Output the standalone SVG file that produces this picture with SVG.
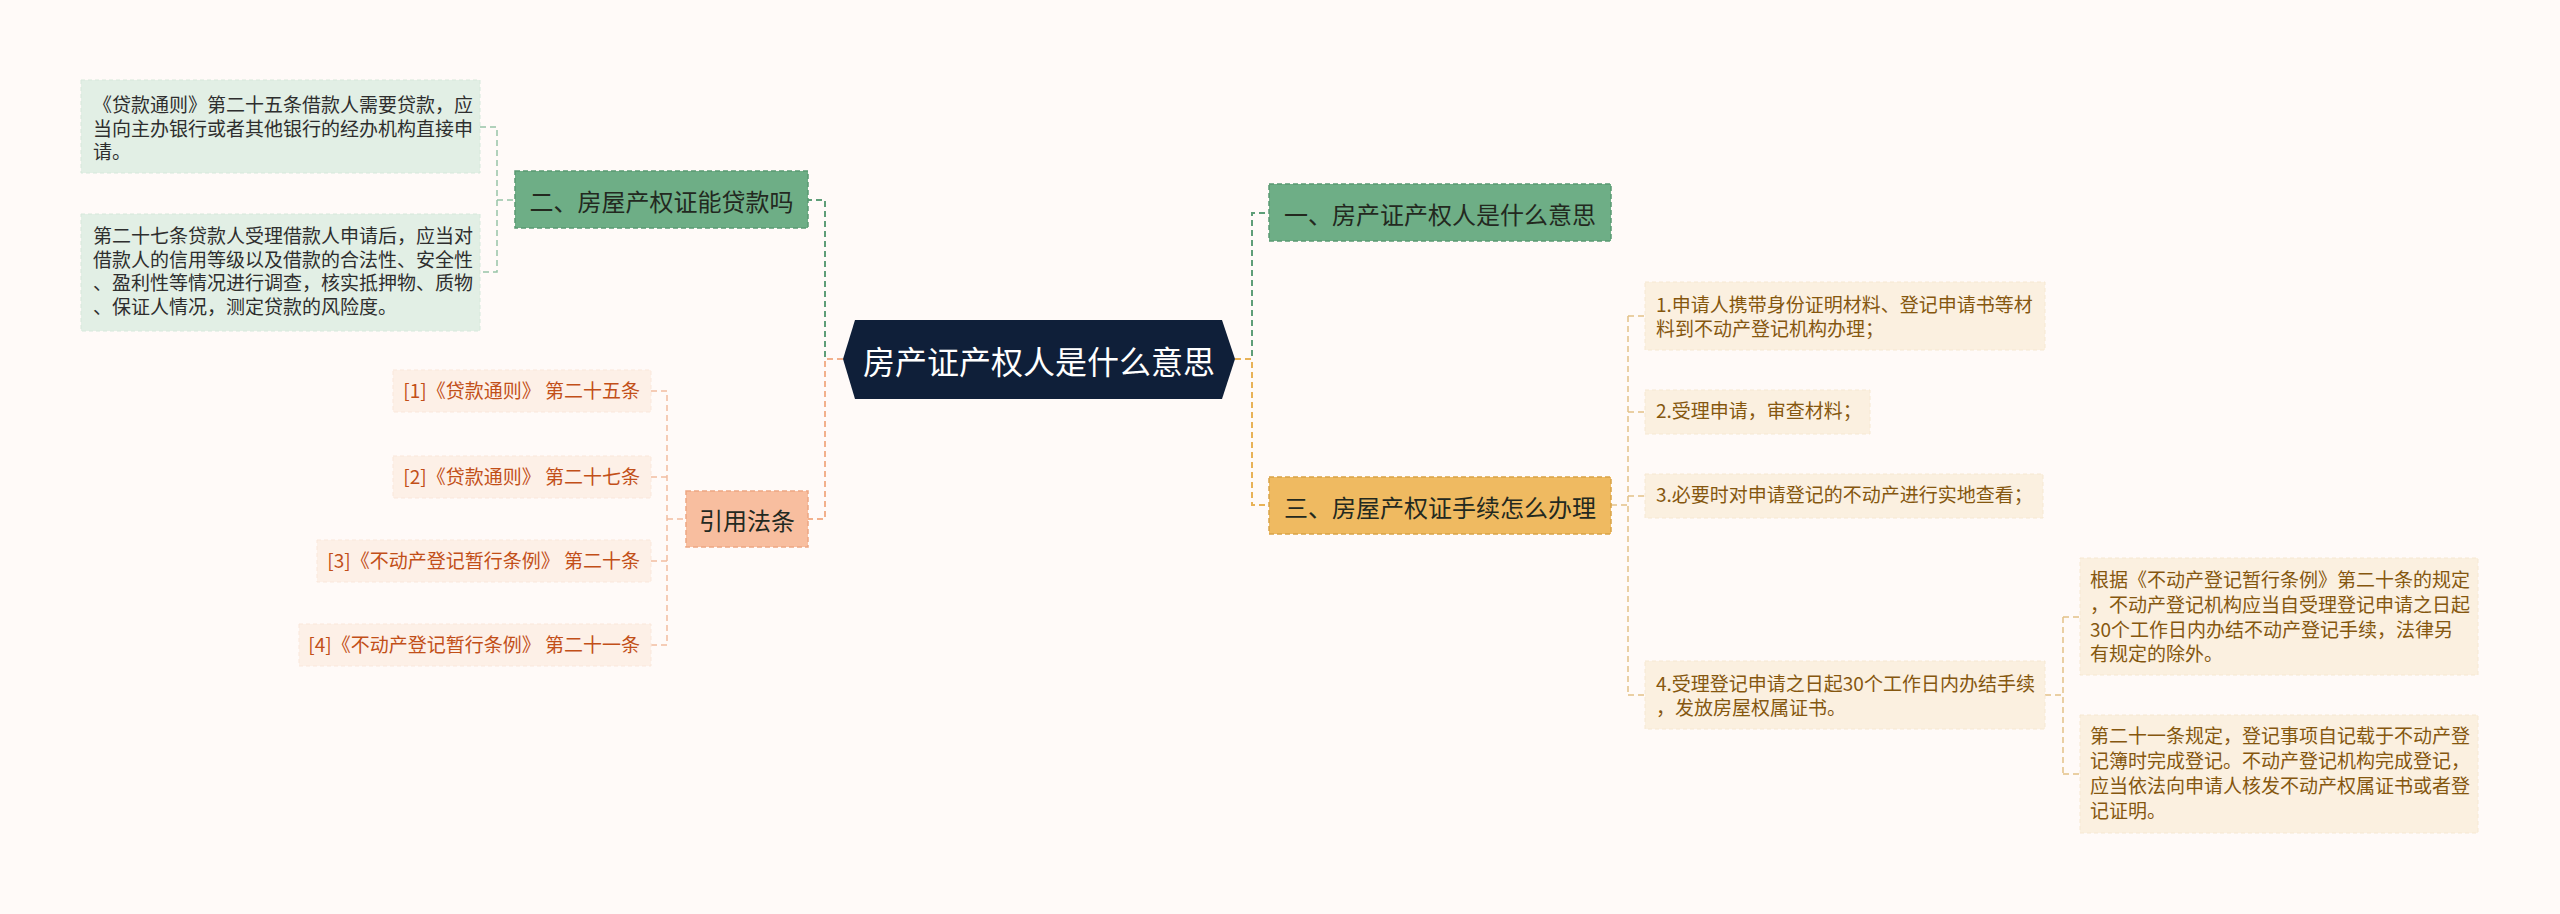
<svg xmlns="http://www.w3.org/2000/svg" width="2560" height="914" viewBox="0 0 2560 914">
<style>
text{font-family:"Noto Sans CJK SC","Noto Sans",sans-serif;}
.small{font-size:19px;}
.node{font-size:24px;fill:#23291F;}
.gbox{fill:#E2EFE5;stroke:#D6E8DB;stroke-width:1;stroke-dasharray:4 3;}
.gtxt{fill:#2E2E2E;}
.cbox{fill:#FBF0E0;stroke:#F6E8D2;stroke-width:1;stroke-dasharray:4 3;}
.ctxt{fill:#85570F;}
.rbox{fill:#FDF0E7;stroke:#FAE7DB;stroke-width:1;stroke-dasharray:4 3;}
.rtxt{fill:#C24F18;}
.main{fill:none;stroke-width:2;stroke-dasharray:6 4;}
.sub{fill:none;stroke-width:1.5;stroke-dasharray:6 4;}
</style>
<rect x="0" y="0" width="2560" height="914" fill="#FFFAF8"/>

<g id="connectors">
  <path class="main" stroke="#5E9E78" d="M843,359 H825 V200 H808"/>
  <path class="main" stroke="#F2B08C" d="M843,359 H825 V519 H808"/>
  <path class="main" stroke="#5E9E78" d="M1235,359 H1252 V213 H1269"/>
  <path class="main" stroke="#E8B257" d="M1235,359 H1252 V505 H1269"/>
  <path class="sub" stroke="#98C4A6" d="M480,127 H497 V272 H480 M497,200 H515"/>
  <path class="sub" stroke="#F2BDA0" d="M651,391 H667 V645 H651 M667,477 H651 M667,561 H651 M667,519 H686"/>
  <path class="sub" stroke="#E4C186" d="M1611,505 H1628 M1628,316 V695 M1628,316 H1645 M1628,412 H1645 M1628,496 H1645 M1628,695 H1645"/>
  <path class="sub" stroke="#E4C186" d="M2045,695 H2063 M2063,617 V774 M2063,617 H2080 M2063,774 H2080"/>
</g>

<g id="root">
  <polygon points="843,359 855,320 1222,320 1235,359 1222,399 855,399" fill="#0F1F39"/>
  <text x="1039" y="360" font-size="32" fill="#FFFFFF" text-anchor="middle" dominant-baseline="central">房产证产权人是什么意思</text>
</g>

<g id="node-2">
  <rect x="515" y="171" width="293" height="57" fill="#6EAE86" stroke="#5A9972" stroke-width="1.5" stroke-dasharray="5 3"/>
  <text class="node" x="661.5" y="200" text-anchor="middle" dominant-baseline="central">二、房屋产权证能贷款吗</text>
</g>
<g id="node-2-a">
  <rect class="gbox" x="81" y="80" width="399" height="93"/>
  <text class="small gtxt" x="93"><tspan x="93" y="112">《贷款通则》第二十五条借款人需要贷款，应</tspan><tspan x="93" y="135.5">当向主办银行或者其他银行的经办机构直接申</tspan><tspan x="93" y="159">请。</tspan></text>
</g>
<g id="node-2-b">
  <rect class="gbox" x="81" y="214" width="399" height="117"/>
  <text class="small gtxt" x="93"><tspan x="93" y="243">第二十七条贷款人受理借款人申请后，应当对</tspan><tspan x="93" y="266.5">借款人的信用等级以及借款的合法性、安全性</tspan><tspan x="93" y="290">、盈利性等情况进行调查，核实抵押物、质物</tspan><tspan x="93" y="313.5">、保证人情况，测定贷款的风险度。</tspan></text>
</g>

<g id="node-refs">
  <rect x="686" y="491" width="122" height="56" fill="#F8BE9F" stroke="#EDA682" stroke-width="1.5" stroke-dasharray="5 3"/>
  <text class="node" x="747" y="519" text-anchor="middle" dominant-baseline="central">引用法条</text>
</g>
<g id="ref-1">
  <rect class="rbox" x="393" y="370" width="258" height="42"/>
  <text class="small rtxt" x="640" y="398" text-anchor="end">[1]《贷款通则》 第二十五条</text>
</g>
<g id="ref-2">
  <rect class="rbox" x="393" y="456" width="258" height="42"/>
  <text class="small rtxt" x="640" y="484" text-anchor="end">[2]《贷款通则》 第二十七条</text>
</g>
<g id="ref-3">
  <rect class="rbox" x="317" y="540" width="334" height="42"/>
  <text class="small rtxt" x="640" y="568" text-anchor="end">[3]《不动产登记暂行条例》 第二十条</text>
</g>
<g id="ref-4">
  <rect class="rbox" x="299" y="624" width="352" height="42"/>
  <text class="small rtxt" x="640" y="652" text-anchor="end">[4]《不动产登记暂行条例》 第二十一条</text>
</g>

<g id="node-1">
  <rect x="1269" y="184" width="342" height="57" fill="#6EAE86" stroke="#5A9972" stroke-width="1.5" stroke-dasharray="5 3"/>
  <text class="node" x="1440" y="213" text-anchor="middle" dominant-baseline="central">一、房产证产权人是什么意思</text>
</g>

<g id="node-3">
  <rect x="1269" y="477" width="342" height="57" fill="#EFBA61" stroke="#D9A246" stroke-width="1.5" stroke-dasharray="5 3"/>
  <text class="node" x="1440" y="506" text-anchor="middle" dominant-baseline="central">三、房屋产权证手续怎么办理</text>
</g>
<g id="step-1">
  <rect class="cbox" x="1645" y="282" width="400" height="68"/>
  <text class="small ctxt"><tspan x="1656" y="312">1.申请人携带身份证明材料、登记申请书等材</tspan><tspan x="1656" y="336">料到不动产登记机构办理；</tspan></text>
</g>
<g id="step-2">
  <rect class="cbox" x="1645" y="390" width="225" height="44"/>
  <text class="small ctxt" x="1656" y="418">2.受理申请，审查材料；</text>
</g>
<g id="step-3">
  <rect class="cbox" x="1645" y="474" width="398" height="44"/>
  <text class="small ctxt" x="1656" y="502">3.必要时对申请登记的不动产进行实地查看；</text>
</g>
<g id="step-4">
  <rect class="cbox" x="1645" y="661" width="400" height="68"/>
  <text class="small ctxt"><tspan x="1656" y="691">4.受理登记申请之日起30个工作日内办结手续</tspan><tspan x="1656" y="715">，发放房屋权属证书。</tspan></text>
</g>
<g id="step-4-a">
  <rect class="cbox" x="2080" y="558" width="398" height="117"/>
  <text class="small ctxt"><tspan x="2090" y="587">根据《不动产登记暂行条例》第二十条的规定</tspan><tspan x="2090" y="612">，不动产登记机构应当自受理登记申请之日起</tspan><tspan x="2090" y="637">30个工作日内办结不动产登记手续，法律另</tspan><tspan x="2090" y="661">有规定的除外。</tspan></text>
</g>
<g id="step-4-b">
  <rect class="cbox" x="2080" y="715" width="398" height="118"/>
  <text class="small ctxt"><tspan x="2090" y="743">第二十一条规定，登记事项自记载于不动产登</tspan><tspan x="2090" y="768">记簿时完成登记。不动产登记机构完成登记，</tspan><tspan x="2090" y="793">应当依法向申请人核发不动产权属证书或者登</tspan><tspan x="2090" y="818">记证明。</tspan></text>
</g>
</svg>
